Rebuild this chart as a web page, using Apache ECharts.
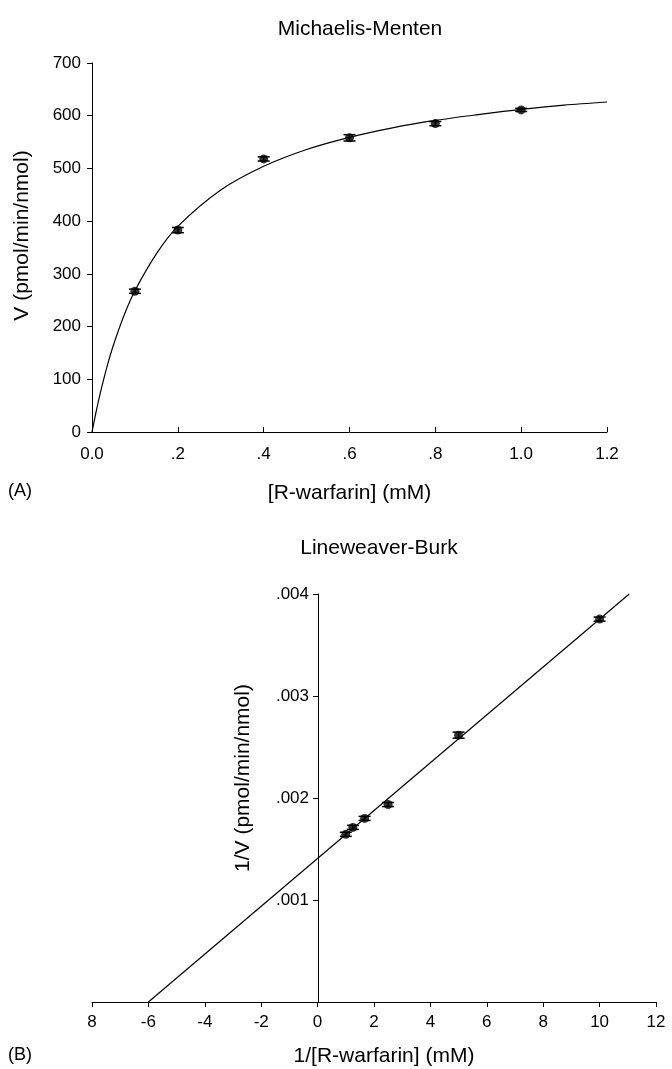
<!DOCTYPE html>
<html>
<head>
<meta charset="utf-8">
<script src="https://cdn.jsdelivr.net/npm/echarts@6/dist/echarts.min.js"></script>
<style>
  html, body { margin: 0; padding: 0; background: #fff; }
  #chart { width: 672px; height: 1069px; }
</style>
</head>
<body>
<div id="chart"></div>
<script>
// (A) Michaelis-Menten: measured points
const mmConc = [0.1, 0.2, 0.4, 0.6, 0.8, 1.0];
const mmRate = [267, 383, 518, 558, 585, 611];
const mmErr = [4, 5, 4, 6, 4, 3];
// fitted curve
const mmFitX = [0, 0.01, 0.02, 0.035, 0.05, 0.075, 0.1, 0.15, 0.2, 0.3, 0.4, 0.5, 0.6, 0.7, 0.8, 0.9, 1.0, 1.1, 1.2];
const mmFitY = [0, 40, 76, 124, 165, 222, 268, 338, 390, 459, 504, 536, 559, 577, 591, 602, 612, 620, 626];

// (B) Lineweaver-Burk
const lbInvConc = [1, 1.25, 1.667, 2.5, 5, 10];
const lbInvRate = [0.001644, 0.001712, 0.0018, 0.001936, 0.002616, 0.003754];
const lbErr = [0.00002, 0.00002, 0.00002, 0.00002, 0.00003, 0.00002];
const lbFitX = [-6, 11.05];
const lbFitY = [0, 0.004];

const FONT = 'Liberation Sans';
const black = '#000';

function pairs(xs, ys) {
  return xs.map((x, i) => [x, ys[i]]);
}
function errData(xs, ys, es) {
  return xs.map((x, i) => [x, ys[i] - es[i], ys[i] + es[i]]);
}

function errRender(params, api) {
  const x = api.value(0);
  const lo = api.coord([x, api.value(1)]);
  const hi = api.coord([x, api.value(2)]);
  const w = 6;
  const st = { stroke: black, lineWidth: 1.5 };
  return {
    type: 'group',
    children: [
      { type: 'line', shape: { x1: lo[0], y1: lo[1], x2: hi[0], y2: hi[1] }, style: st },
      { type: 'line', shape: { x1: lo[0] - w, y1: lo[1], x2: lo[0] + w, y2: lo[1] }, style: st },
      { type: 'line', shape: { x1: hi[0] - w, y1: hi[1], x2: hi[0] + w, y2: hi[1] }, style: st }
    ]
  };
}

const axisCommon = {
  axisLine: { onZero: false, lineStyle: { color: black, width: 1 } },
  axisTick: { lineStyle: { color: black, width: 1 }, length: 5 },
  axisLabel: { color: black, fontSize: 17, fontFamily: FONT },
  splitLine: { show: false },
  nameTextStyle: { color: black, fontSize: 21, fontFamily: FONT }
};

const chart = echarts.init(document.getElementById('chart'));

let option = {
  animation: false,
  backgroundColor: '#fff',
  title: [
    {
      text: 'Michaelis-Menten',
      left: 355, top: 14, textAlign: 'center',
      textStyle: { color: black, fontSize: 21, fontWeight: 'normal', fontFamily: FONT }
    },
    {
      text: 'Lineweaver-Burk',
      left: 374, top: 533, textAlign: 'center',
      textStyle: { color: black, fontSize: 21, fontWeight: 'normal', fontFamily: FONT }
    }
  ],
  graphic: [
    { type: 'text', left: 8, top: 482, style: { text: '(A)', fontSize: 18, fontFamily: FONT, fill: black } },
    { type: 'text', left: 8, top: 1046, style: { text: '(B)', fontSize: 18, fontFamily: FONT, fill: black } }
  ],
  grid: [
    { left: 92, top: 63, width: 515, height: 369 },
    { left: 92, top: 594, width: 564, height: 408 }
  ],
  xAxis: [
    Object.assign({}, axisCommon, {
      gridIndex: 0, type: 'value', min: 0, max: 1.2, interval: 0.2,
      name: '[R-warfarin] (mM)', nameLocation: 'middle', nameGap: 51,
      axisTick: { inside: true, length: 5, lineStyle: { color: black } },
      axisLabel: Object.assign({}, axisCommon.axisLabel, {
        margin: 14,
        formatter: v => (v === 0 ? '0.0' : v >= 1 ? v.toFixed(1) : v.toFixed(1).replace('0.', '.'))
      })
    }),
    Object.assign({}, axisCommon, {
      gridIndex: 1, type: 'value', min: -8, max: 12, interval: 2,
      name: '1/[R-warfarin] (mM)', nameLocation: 'middle', nameGap: 44,
      nameTextStyle: { color: black, fontSize: 21, fontFamily: FONT, padding: [0, 0, 0, 20] },
      axisLabel: Object.assign({}, axisCommon.axisLabel, {
        margin: 12,
        formatter: v => (v === -8 ? '8' : String(v))
      })
    })
  ],
  yAxis: [
    Object.assign({}, axisCommon, {
      gridIndex: 0, type: 'value', min: 0, max: 700, interval: 100,
      name: 'V (pmol/min/nmol)', nameLocation: 'middle', nameGap: 59,
      nameTextStyle: { color: black, fontSize: 21, fontFamily: FONT, padding: [0, 0, 0, 24] },
      axisLabel: Object.assign({}, axisCommon.axisLabel, { margin: 11 })
    }),
    Object.assign({}, axisCommon, {
      // y axis sits on x = 0 of the lower panel
      gridIndex: 1, type: 'value', min: 0, max: 0.004, interval: 0.001,
      offset: -226,
      name: '1/V (pmol/min/nmol)', nameLocation: 'middle', nameGap: 64,
      nameTextStyle: { color: black, fontSize: 21, fontFamily: FONT, padding: [0, 0, 0, 40] },
      axisLabel: Object.assign({}, axisCommon.axisLabel, {
        margin: 9,
        formatter: v => (v === 0 ? '' : v.toFixed(3).replace('0.', '.'))
      })
    })
  ],
  series: [
    {
      type: 'line', xAxisIndex: 0, yAxisIndex: 0,
      data: pairs(mmFitX, mmFitY), smooth: 0.3, symbol: 'none',
      lineStyle: { color: black, width: 1.2 }
    },
    {
      type: 'custom', xAxisIndex: 0, yAxisIndex: 0,
      data: errData(mmConc, mmRate, mmErr), renderItem: errRender,
      encode: { x: 0, y: [1, 2] }
    },
    {
      type: 'scatter', xAxisIndex: 0, yAxisIndex: 0,
      data: pairs(mmConc, mmRate), symbol: 'circle', symbolSize: 9,
      itemStyle: { color: black }
    },
    {
      type: 'line', xAxisIndex: 1, yAxisIndex: 1,
      data: pairs(lbFitX, lbFitY), symbol: 'none',
      lineStyle: { color: black, width: 1.2 }
    },
    {
      type: 'custom', xAxisIndex: 1, yAxisIndex: 1,
      data: errData(lbInvConc, lbInvRate, lbErr), renderItem: errRender,
      encode: { x: 0, y: [1, 2] }
    },
    {
      type: 'scatter', xAxisIndex: 1, yAxisIndex: 1,
      data: pairs(lbInvConc, lbInvRate), symbol: 'circle', symbolSize: 9,
      itemStyle: { color: black }
    }
  ]
};

chart.setOption(option);
</script>
</body>
</html>
